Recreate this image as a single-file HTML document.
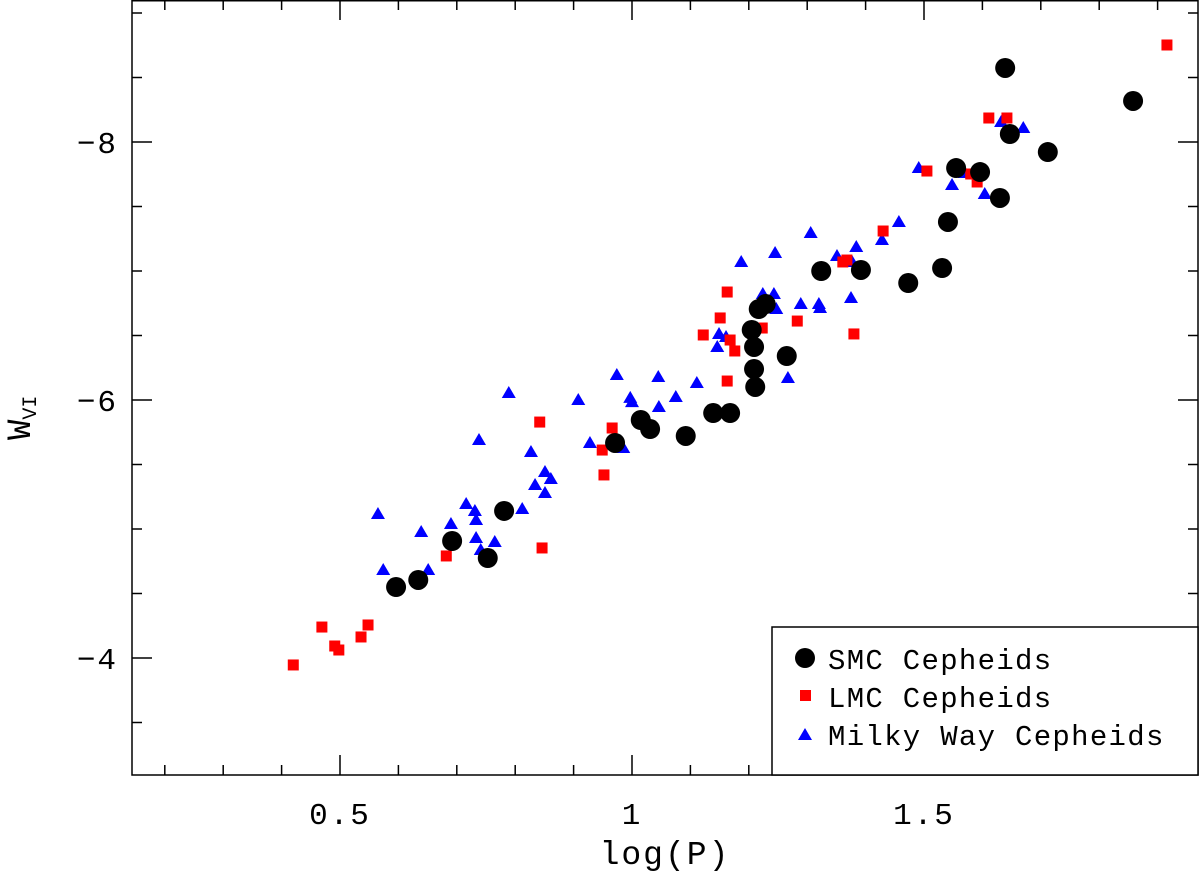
<!DOCTYPE html>
<html><head><meta charset="utf-8"><style>
body{margin:0;background:#fff;}
svg text{font-family:"Liberation Mono","DejaVu Sans Mono",monospace;fill:#000;}
</style></head><body>
<svg id="chart" width="1200" height="872" xmlns="http://www.w3.org/2000/svg"></svg>
<script>
const smcX=[0.596,0.634,0.692,0.753,0.781,0.971,1.015,1.031,1.092,1.139,1.168,1.205,1.209,1.209,1.211,1.217,1.229,1.265,1.324,1.392,1.473,1.531,1.541,1.555,1.596,1.630,1.639,1.647,1.712,1.858];
const smcY=[-4.550,-4.605,-4.907,-4.775,-5.140,-5.667,-5.845,-5.775,-5.721,-5.899,-5.899,-6.543,-6.411,-6.240,-6.101,-6.705,-6.744,-6.341,-7.000,-7.008,-6.907,-7.023,-7.380,-7.798,-7.767,-7.566,-8.574,-8.062,-7.922,-8.318];
const lmcX=[0.420,0.469,0.491,0.498,0.536,0.548,0.682,0.842,0.846,0.949,0.952,0.966,1.122,1.151,1.163,1.168,1.176,1.163,1.223,1.283,1.368,1.361,1.380,1.430,1.505,1.580,1.591,1.611,1.642,1.916];
const lmcY=[-3.946,-4.240,-4.093,-4.062,-4.163,-4.256,-4.791,-5.829,-4.853,-5.612,-5.419,-5.783,-6.504,-6.636,-6.837,-6.465,-6.380,-6.147,-6.558,-6.612,-7.085,-7.070,-6.512,-7.310,-7.775,-7.752,-7.690,-8.186,-8.186,-8.752];
const mwX=[0.565,0.574,0.639,0.651,0.690,0.716,0.731,0.733,0.733,0.741,0.765,0.738,0.789,0.827,0.851,0.861,0.834,0.851,0.812,0.908,0.974,0.997,1.000,1.046,1.045,1.075,1.111,0.928,0.985,1.146,1.149,1.161,1.187,1.245,1.224,1.243,1.247,1.267,1.289,1.320,1.322,1.306,1.351,1.384,1.375,1.428,1.457,1.491,1.632,1.670,1.570,1.548,1.604,1.377];
const mwY=[-5.116,-4.682,-4.977,-4.682,-5.039,-5.194,-5.140,-5.070,-4.930,-4.837,-4.899,-5.690,-6.054,-5.597,-5.442,-5.388,-5.341,-5.279,-5.155,-6.000,-6.194,-6.016,-5.984,-5.946,-6.178,-6.023,-6.132,-5.667,-5.628,-6.411,-6.512,-6.488,-7.070,-7.140,-6.822,-6.822,-6.705,-6.171,-6.744,-6.744,-6.713,-7.295,-7.116,-7.186,-6.791,-7.240,-7.380,-7.798,-8.155,-8.109,-7.760,-7.667,-7.597,-7.070];
const xTickLabels=["0.5","1","1.5"];
const xTickVals=[0.5,1,1.5];
const yTickLabels=["−8","−6","−4"];
const yTickVals=[-8,-6,-4];

const NS="http://www.w3.org/2000/svg";
const svg=document.getElementById('chart');
const L=132,R=1198,T=0,B=775;
const sx=v=>340+(v-0.5)*584;
const sy=v=>142+(v+8)*129;
function mk(tag,attrs,parent){const e=document.createElementNS(NS,tag);for(const k in attrs)e.setAttribute(k,attrs[k]);(parent||svg).appendChild(e);return e;}

const ticks=mk('g',{stroke:'#000','stroke-width':1.5});


for(let i=2;i<=19;i++){const v=i/10,x=sx(v);if(x<L||x>R)continue;const major=(i%5===0);const len=major?20:10;
 mk('line',{x1:x,y1:B,x2:x,y2:B-len},ticks);mk('line',{x1:x,y1:T,x2:x,y2:T+len},ticks);}
for(let i=-18;i<=-6;i++){const v=i/2,y=sy(v);if(y<T||y>B)continue;const major=(i%4===0);const len=major?20:10;
 mk('line',{x1:L,y1:y,x2:L+len,y2:y},ticks);mk('line',{x1:R,y1:y,x2:R-len,y2:y},ticks);}

const frame=mk('rect',{x:L,y:T+0.75,width:R-L,height:B-T-0.75,fill:'none',stroke:'#000','stroke-width':1.5});



xTickVals.forEach((v,i)=>{const t=mk('text',{x:sx(v),y:824,'font-size':31,'text-anchor':'middle','letter-spacing':2});t.textContent=xTickLabels[i];
 
 });
yTickVals.forEach((v,i)=>{const t=mk('text',{x:118,y:sy(v)+11,'font-size':31,'text-anchor':'end','letter-spacing':2});t.textContent=yTickLabels[i];
 
 });

const xt=mk('text',{x:665,y:864,'font-size':33,'text-anchor':'middle','letter-spacing':2});xt.textContent='log(P)';


const yt=mk('text',{x:0,y:0,'font-size':34,transform:'translate(30,440) rotate(-90)'});
yt.innerHTML='W<tspan font-size="20" dy="6">VI</tspan>';



function tri(cx,cy,parent){return mk('polygon',{points:`${cx-7},${cy+5} ${cx+7},${cy+5} ${cx},${cy-7}`,fill:'#0000ff'},parent);}
const gmw=mk('g',{});
mwX.forEach((v,i)=>{const p=tri(sx(v),sy(mwY[i]),gmw);
 
 });
const glmc=mk('g',{});
lmcX.forEach((v,i)=>{const p=mk('rect',{x:sx(v)-5.5,y:sy(lmcY[i])-5.5,width:11,height:11,fill:'#ff0000'},glmc);
 
 });
const gsmc=mk('g',{});
smcX.forEach((v,i)=>{const p=mk('circle',{cx:sx(v),cy:sy(smcY[i]),r:10,fill:'#000'},gsmc);
 
 });

const lg=mk('g',{});
mk('rect',{x:772,y:627,width:R-772,height:B-627,fill:'#fff',stroke:'#000','stroke-width':1.5},lg);
mk('circle',{cx:805,cy:658,r:10,fill:'#000'},lg);
mk('rect',{x:800,y:690,width:11,height:11,fill:'#ff0000'},lg);
tri(805,735,lg);
[['SMC Cepheids',669],['LMC Cepheids',707],['Milky Way Cepheids',745]].forEach(([s,y])=>{const t=mk('text',{x:828,y:y,'font-size':29,'letter-spacing':1.3},lg);t.textContent=s;
 
 });
</script>
</body></html>
